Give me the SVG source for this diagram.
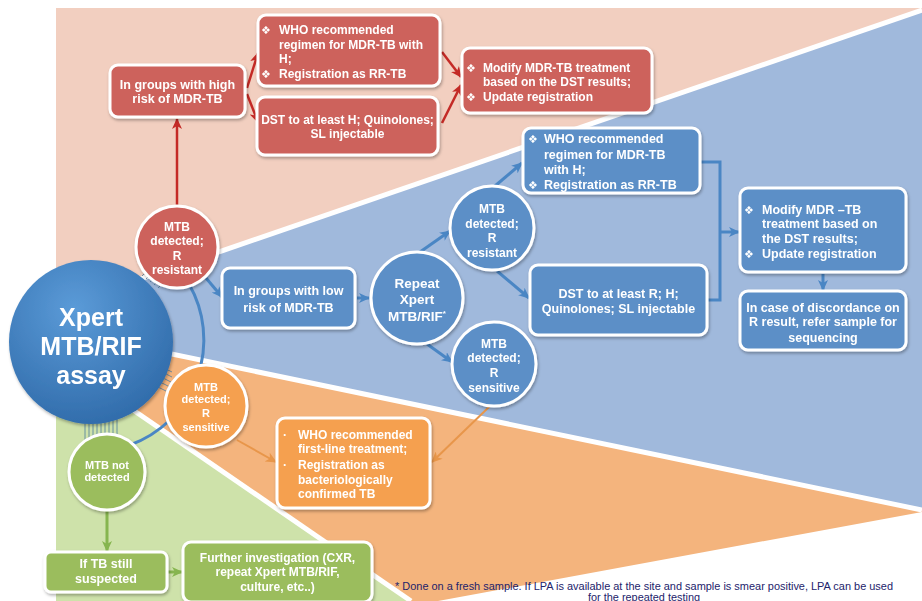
<svg xmlns="http://www.w3.org/2000/svg" width="922" height="601" viewBox="0 0 922 601">
<defs>
<style>
.t{font-family:"Liberation Sans",Arial,sans-serif;font-weight:bold;fill:#fff;font-size:12.5px}
.c{text-anchor:middle}
.s11{font-size:11px}
.s12{font-size:12px}
.bl{font-family:"DejaVu Sans",sans-serif;font-size:11px;fill:#fff}
.red{fill:#cd625c;stroke:#fff;stroke-width:3}
.blu{fill:#5b8fc7;stroke:#fff;stroke-width:3}
.org{fill:#f5a04f;stroke:#fff;stroke-width:3}
.grn{fill:#9bbd5d;stroke:#fff;stroke-width:3}
.ar{fill:none;stroke:#c42a26;stroke-width:2.5}
.ab{fill:none;stroke:#4a86c4;stroke-width:3}
.ao{fill:none;stroke:#e8964a;stroke-width:2}
.ag{fill:none;stroke:#86b54f;stroke-width:3}
.sep{stroke:#fff;stroke-width:5}
.h{stroke:#4f7f9f;stroke-width:0.8}
.fn{font-family:"Liberation Sans",Arial,sans-serif;font-size:11px;fill:#23236b}
</style>
<filter id="sh" x="-20%" y="-20%" width="140%" height="150%"><feDropShadow dx="1" dy="2" stdDeviation="1.5" flood-color="#000" flood-opacity="0.3"/></filter>
<radialGradient id="xg" cx="0.4" cy="0.3" r="0.8"><stop offset="0" stop-color="#5b9bd8"/><stop offset="1" stop-color="#2c67a6"/></radialGradient>
<marker id="mr" markerUnits="userSpaceOnUse" markerWidth="12" markerHeight="10" refX="10" refY="5" orient="auto"><path d="M0,0 L11,5 L0,10 L3,5 z" fill="#c42a26"/></marker>
<marker id="mb" markerUnits="userSpaceOnUse" markerWidth="12" markerHeight="10" refX="10" refY="5" orient="auto"><path d="M0,0 L11,5 L0,10 L3,5 z" fill="#4a86c4"/></marker>
<marker id="mo" markerUnits="userSpaceOnUse" markerWidth="12" markerHeight="10" refX="10" refY="5" orient="auto"><path d="M0,0 L11,5 L0,10 L3,5 z" fill="#e8964a"/></marker>
<marker id="mg" markerUnits="userSpaceOnUse" markerWidth="12" markerHeight="10" refX="10" refY="5" orient="auto"><path d="M0,0 L11,5 L0,10 L3,5 z" fill="#86b54f"/></marker>
</defs>
<rect width="922" height="601" fill="#fff"/>
<g id="background">
<polygon points="56,8 922,8 922,10 56,308" fill="#f2cfc0"/>
<polygon points="56,308 922,10 922,510 56,330" fill="#a0b9dc"/>
<polygon points="56,330 922,510 922,512 438,601 411,601 56,357" fill="#f4b47d"/>
<polygon points="56,357 411,601 56,601" fill="#cee2aa"/>
<line class="sep" x1="56" y1="308" x2="922" y2="10"/>
<line class="sep" x1="56" y1="330" x2="922" y2="510"/>
<line class="sep" x1="56" y1="357" x2="411" y2="601"/>
</g>
<g id="connectors">
<path d="M189,284 A112,112 0 0 1 130,445" fill="none" stroke="#4a86c4" stroke-width="3"/>
<g class="h">
<line x1="142" y1="276" x2="152" y2="266"/><line x1="146" y1="279" x2="156" y2="269"/><line x1="150" y1="282" x2="160" y2="272"/><line x1="154" y1="285" x2="164" y2="275"/><line x1="158" y1="288" x2="168" y2="278"/>
<line x1="160" y1="366" x2="172" y2="372"/><line x1="160" y1="371" x2="172" y2="377"/><line x1="159" y1="376" x2="171" y2="382"/><line x1="158" y1="381" x2="170" y2="387"/><line x1="156" y1="386" x2="168" y2="392"/>
<line x1="85" y1="418" x2="85" y2="440"/><line x1="89" y1="418" x2="89" y2="440"/><line x1="93" y1="418" x2="93" y2="440"/><line x1="97" y1="418" x2="97" y2="440"/><line x1="101" y1="418" x2="101" y2="440"/><line x1="105" y1="418" x2="105" y2="440"/><line x1="109" y1="418" x2="109" y2="440"/><line x1="113" y1="418" x2="113" y2="440"/><line x1="117" y1="418" x2="117" y2="440"/>
</g>
<line class="ar" x1="177" y1="206" x2="177" y2="119" marker-end="url(#mr)"/>
<line class="ar" x1="247" y1="88" x2="258" y2="53" marker-end="url(#mr)"/>
<line class="ar" x1="247" y1="94" x2="258" y2="122" marker-end="url(#mr)"/>
<line class="ar" x1="442" y1="52" x2="461" y2="77" marker-end="url(#mr)"/>
<line class="ar" x1="442" y1="123" x2="461" y2="85" marker-end="url(#mr)"/>
<line class="ab" x1="206" y1="278" x2="222" y2="297" marker-end="url(#mb)"/>
<line class="ab" x1="357" y1="298" x2="369" y2="298" marker-end="url(#mb)"/>
<line class="ab" x1="420" y1="252" x2="450" y2="231" marker-end="url(#mb)"/>
<line class="ab" x1="427" y1="344" x2="452" y2="362" marker-end="url(#mb)"/>
<line class="ab" x1="495" y1="186" x2="522" y2="163" marker-end="url(#mb)"/>
<line class="ab" x1="497" y1="271" x2="529" y2="298" marker-end="url(#mb)"/>
<polyline class="ab" points="701,162 720,162 720,300 708,300"/>
<line class="ab" x1="720" y1="232" x2="739" y2="232" marker-end="url(#mb)"/>
<line class="ab" x1="823" y1="274" x2="823" y2="290" marker-end="url(#mb)"/>
<line class="ao" x1="237" y1="440" x2="276" y2="462" marker-end="url(#mo)"/>
<line class="ao" x1="490" y1="406" x2="432" y2="462" marker-end="url(#mo)"/>
<line class="ag" x1="107" y1="511" x2="107" y2="551" marker-end="url(#mg)"/>
<line class="ag" x1="168" y1="572" x2="182" y2="572" marker-end="url(#mg)"/>
</g>
<g id="xpert" filter="url(#sh)">
<circle cx="91" cy="342" r="82" fill="url(#xg)"/>
<text class="t c" x="91" y="326" style="font-size:25px">Xpert</text>
<text class="t c" x="91" y="355" style="font-size:25px">MTB/RIF</text>
<text class="t c" x="91" y="384" style="font-size:25px">assay</text>
</g>
<g id="red-circle" filter="url(#sh)">
<circle class="red" cx="177" cy="247" r="41"/>
<text class="t c s12" x="177" y="230.5">MTB</text>
<text class="t c s12" x="177" y="244.5">detected;</text>
<text class="t c s12" x="177" y="259.5">R</text>
<text class="t c s12" x="177" y="273.5">resistant</text>
</g>
<g id="red-high-risk" filter="url(#sh)">
<rect class="red" x="110" y="65" width="135" height="52" rx="8"/>
<text class="t c" x="177.5" y="88.5">In groups with high</text>
<text class="t c" x="177.5" y="102.5">risk of MDR-TB</text>
</g>
<g id="red-who" filter="url(#sh)">
<rect class="red" x="258" y="15" width="182" height="71" rx="8"/>
<text class="bl" x="261" y="33.5">❖</text>
<text class="t s12" x="279" y="33.5">WHO recommended</text>
<text class="t s12" x="279" y="48.5">regimen for MDR-TB with</text>
<text class="t s12" x="279" y="62.5">H;</text>
<text class="bl" x="261" y="77.5">❖</text>
<text class="t s12" x="279" y="77.5">Registration as RR-TB</text>
</g>
<g id="red-dst" filter="url(#sh)">
<rect class="red" x="257" y="97" width="181" height="58" rx="8"/>
<text class="t c s12" x="347.5" y="123.5">DST to at least H; Quinolones;</text>
<text class="t c s12" x="347.5" y="137.5">SL injectable</text>
</g>
<g id="red-modify" filter="url(#sh)">
<rect class="red" x="462" y="48" width="190" height="65" rx="8"/>
<text class="bl" x="466" y="71.5">❖</text>
<text class="t s12" x="483" y="71.5">Modify MDR-TB treatment</text>
<text class="t s12" x="483" y="85.5">based on the DST results;</text>
<text class="bl" x="466" y="100.5">❖</text>
<text class="t s12" x="483" y="100.5">Update registration</text>
</g>
<g id="blue-low-risk" filter="url(#sh)">
<rect class="blu" x="222" y="268" width="133" height="60" rx="8"/>
<text class="t c" x="288.5" y="294.5">In groups with low</text>
<text class="t c" x="288.5" y="311.5">risk of MDR-TB</text>
</g>
<g id="blue-repeat" filter="url(#sh)">
<circle class="blu" cx="417" cy="298" r="46"/>
<text class="t c" x="417" y="288" style="font-size:13.5px">Repeat</text>
<text class="t c" x="417" y="304" style="font-size:13.5px">Xpert</text>
<text class="t c" x="417" y="321" style="font-size:13.5px">MTB/RIF<tspan style="font-size:8px" dy="-5">*</tspan></text>
</g>
<g id="blue-resistant" filter="url(#sh)">
<circle class="blu" cx="492" cy="228" r="42"/>
<text class="t c s12" x="492" y="212.5">MTB</text>
<text class="t c s12" x="492" y="227.5">detected;</text>
<text class="t c s12" x="492" y="241.5">R</text>
<text class="t c s12" x="492" y="256.5">resistant</text>
</g>
<g id="blue-sensitive" filter="url(#sh)">
<circle class="blu" cx="494" cy="364" r="42"/>
<text class="t c s12" x="494" y="347.5">MTB</text>
<text class="t c s12" x="494" y="361.5">detected;</text>
<text class="t c s12" x="494" y="376.5">R</text>
<text class="t c s12" x="494" y="391.5">sensitive</text>
</g>
<g id="blue-who" filter="url(#sh)">
<rect class="blu" x="523" y="128" width="177" height="65" rx="8"/>
<text class="bl" x="528" y="142.5">❖</text>
<text class="t" x="544" y="142.5">WHO recommended</text>
<text class="t" x="544" y="158.5">regimen for MDR-TB</text>
<text class="t" x="544" y="173.5">with H;</text>
<text class="bl" x="528" y="188.5">❖</text>
<text class="t" x="544" y="188.5">Registration as RR-TB</text>
</g>
<g id="blue-dst" filter="url(#sh)">
<rect class="blu" x="530" y="265" width="177" height="70" rx="8"/>
<text class="t c" x="618.5" y="297.5">DST to at least R; H;</text>
<text class="t c" x="618.5" y="312.5">Quinolones; SL injectable</text>
</g>
<g id="blue-modify" filter="url(#sh)">
<rect class="blu" x="740" y="188" width="166" height="84" rx="8"/>
<text class="bl" x="744" y="213.5">❖</text>
<text class="t" x="762" y="213.5">Modify MDR –TB</text>
<text class="t" x="762" y="227.5">treatment based on</text>
<text class="t" x="762" y="242.5">the DST results;</text>
<text class="bl" x="744" y="257.5">❖</text>
<text class="t" x="762" y="257.5">Update registration</text>
</g>
<g id="blue-discordance" filter="url(#sh)">
<rect class="blu" x="740" y="291" width="166" height="59" rx="8"/>
<text class="t c" x="823" y="311.5">In case of discordance on</text>
<text class="t c" x="823" y="325.5">R result, refer sample for</text>
<text class="t c" x="823" y="341.5">sequencing</text>
</g>
<g id="orange-sensitive" filter="url(#sh)">
<circle class="org" cx="206" cy="406" r="41"/>
<text class="t c s11" x="206" y="391">MTB</text>
<text class="t c s11" x="206" y="403">detected;</text>
<text class="t c s11" x="206" y="417">R</text>
<text class="t c s11" x="206" y="431">sensitive</text>
</g>
<g id="orange-first-line" filter="url(#sh)">
<rect class="org" x="277" y="418" width="153" height="90" rx="8"/>
<text class="t s12" x="283" y="438.5">·</text>
<text class="t s12" x="298" y="438.5">WHO recommended</text>
<text class="t s12" x="298" y="452.5">first-line treatment;</text>
<text class="t s12" x="283" y="468.5">·</text>
<text class="t s12" x="298" y="468.5">Registration as</text>
<text class="t s12" x="298" y="483.5">bacteriologically</text>
<text class="t s12" x="298" y="497.5">confirmed TB</text>
</g>
<g id="green-not-detected" filter="url(#sh)">
<circle class="grn" cx="107" cy="472" r="38"/>
<text class="t c s11" x="107" y="469">MTB not</text>
<text class="t c s11" x="107" y="481">detected</text>
</g>
<g id="green-suspected" filter="url(#sh)">
<rect class="grn" x="45" y="552" width="122" height="40" rx="6"/>
<text class="t c" x="106" y="567.5">If TB still</text>
<text class="t c" x="106" y="582.5">suspected</text>
</g>
<g id="green-further" filter="url(#sh)">
<rect class="grn" x="183" y="542" width="189" height="60" rx="8"/>
<text class="t c s12" x="277.5" y="561.5">Further investigation (CXR,</text>
<text class="t c s12" x="277.5" y="575.5">repeat Xpert MTB/RIF,</text>
<text class="t c s12" x="277.5" y="590.5">culture, etc..)</text>
</g>
<g id="footnote">
<text class="fn" x="395" y="590" textLength="498" lengthAdjust="spacingAndGlyphs">* Done on a fresh sample. If LPA is available at the site and sample is smear positive, LPA can be used</text>
<text class="fn" x="644" y="600.5" text-anchor="middle" textLength="112" lengthAdjust="spacingAndGlyphs">for the repeated testing</text>
</g>
</svg>
